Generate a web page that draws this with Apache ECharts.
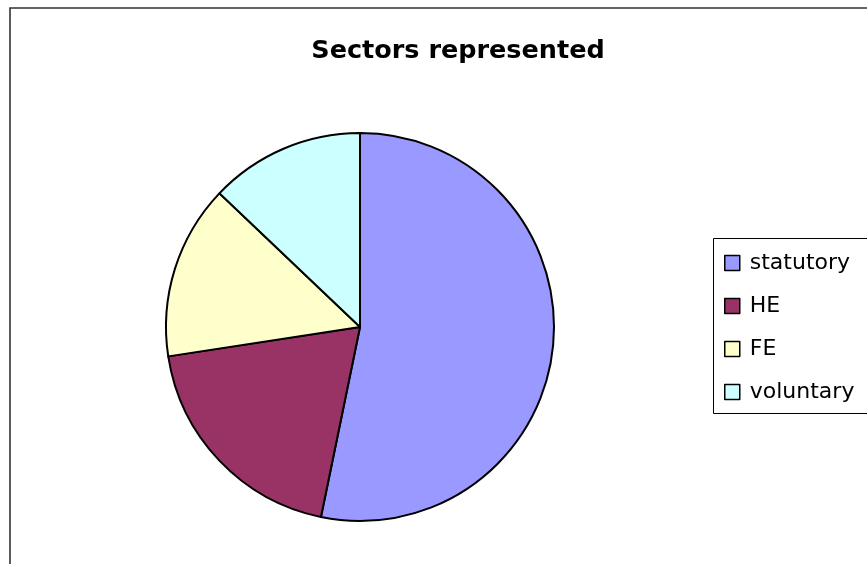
<!DOCTYPE html>
<html>
<head>
<meta charset="utf-8">
<script src="https://cdn.jsdelivr.net/npm/echarts@6/dist/echarts.min.js"></script>
<style>
  html, body { margin: 0; padding: 0; background: #fff; }
  #chart { width: 867px; height: 564px; }
</style>
</head>
<body>
<div id="chart"></div>
<script>
// Sector counts
const sectors = ['statutory', 'HE', 'FE', 'voluntary'];
const counts = [33, 12, 9, 8];
const sectorColors = ['#9999FF', '#993366', '#FFFFCC', '#CCFFFF'];
const chartTitle = 'Sectors represented';

const chart = echarts.init(document.getElementById('chart'), null, { renderer: 'canvas' });

chart.setOption({
  animation: false,
  backgroundColor: '#ffffff',
  title: {
    text: chartTitle,
    left: 453,
    top: 33,
    textAlign: 'center',
    textStyle: {
      fontFamily: 'DejaVu Sans',
      fontWeight: 'bold',
      fontSize: 25.5,
      color: '#000'
    }
  },
  legend: {
    orient: 'vertical',
    left: 724,
    top: 252,
    padding: 0,
    icon: 'rect',
    itemWidth: 15,
    itemHeight: 15,
    itemGap: 21,
    selectedMode: false,
    data: sectors,
    itemStyle: { borderColor: '#000', borderWidth: 1.5 },
    textStyle: {
      fontFamily: 'DejaVu Sans',
      fontSize: 22,
      color: '#000',
      padding: [0, 0, 0, 5]
    }
  },
  graphic: [
    {
      type: 'rect',
      silent: true,
      shape: { x: 10, y: 8, width: 900, height: 600 },
      style: { fill: null, stroke: '#333', lineWidth: 1.6 }
    },
    {
      type: 'rect',
      silent: true,
      shape: { x: 713.5, y: 238.5, width: 200, height: 175 },
      style: { fill: null, stroke: '#000', lineWidth: 1 }
    }
  ],
  series: [
    {
      type: 'pie',
      center: [360, 327],
      radius: [0, 194],
      startAngle: 90,
      clockwise: true,
      silent: true,
      label: { show: false },
      labelLine: { show: false },
      itemStyle: { borderColor: '#000', borderWidth: 2 },
      data: sectors.map((name, i) => ({
        name: name,
        value: counts[i],
        itemStyle: { color: sectorColors[i] }
      }))
    }
  ]
});
</script>
</body>
</html>
